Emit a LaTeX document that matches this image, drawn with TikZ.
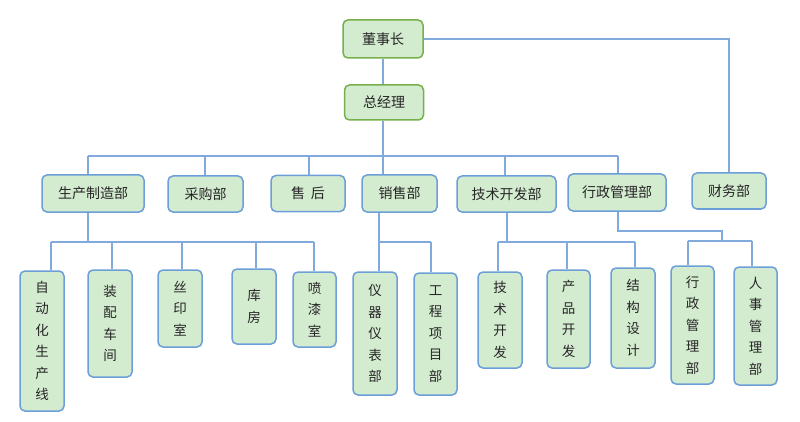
\documentclass[tikz,border=0pt]{standalone}
\usepackage{fontspec}
\newfontfamily\cjk{Noto Sans CJK SC}
\definecolor{boxfill}{HTML}{D3EBCF}
\definecolor{boxblue}{HTML}{6C9FD8}
\definecolor{topgreen}{HTML}{77B04A}
\definecolor{linkblue}{HTML}{80AADB}
\begin{document}
\begin{tikzpicture}[x=1pt,y=-1pt,
  base/.style={fill=boxfill, rounded corners=5pt, line width=1.5pt, inner sep=0pt, align=center, text=black!85},
  topbox/.style={base, draw=topgreen, font=\cjk\fontsize{14}{16}\selectfont},
  hbox/.style={base, draw=boxblue, font=\cjk\fontsize{14}{16}\selectfont},
  vbox/.style={base, draw=boxblue, font=\cjk\fontsize{13.5}{21.5}\selectfont},
  link/.style={draw=linkblue, line width=1.1pt}]
\useasboundingbox (0,0) rectangle (800,422);
% top
\node[topbox, minimum width=80pt, minimum height=38pt] (chair) at (383,39) {董事长};
\node[topbox, minimum width=79pt, minimum height=35pt] (gm) at (384,102.5) {总经理};
% second level
\node[hbox, minimum width=102pt, minimum height=37pt] (mfg) at (93,193.5) {生产制造部};
\node[hbox, minimum width=75pt, minimum height=36pt] (pur) at (205.5,194) {采购部};
\node[hbox, minimum width=74pt, minimum height=36pt] (after) at (308,193.5) {售\hspace{6pt}后};
\node[hbox, minimum width=75pt, minimum height=37pt] (sales) at (399.5,193.5) {销售部};
\node[hbox, minimum width=99pt, minimum height=36pt] (tech) at (506.5,194) {技术开发部};
\node[hbox, minimum width=98pt, minimum height=37pt] (admin) at (617,192.5) {行政管理部};
\node[hbox, minimum width=74pt, minimum height=36pt] (fin) at (729,191) {财务部};
% bottom level
\node[vbox, minimum width=44pt, minimum height=140pt] (b1) at (42,341) {自\\动\\化\\生\\产\\线};
\node[vbox, minimum width=44pt, minimum height=107pt] (b2) at (110,323.5) {装\\配\\车\\间};
\node[vbox, minimum width=44pt, minimum height=77pt] (b3) at (180,308.5) {丝\\印\\室};
\node[vbox, minimum width=44pt, minimum height=75pt] (b4) at (254,306.5) {库\\房};
\node[vbox, minimum width=43pt, minimum height=75pt] (b5) at (314.5,309.5) {喷\\漆\\室};
\node[vbox, minimum width=44pt, minimum height=123pt] (b6) at (375,333.5) {仪\\器\\仪\\表\\部};
\node[vbox, minimum width=43pt, minimum height=122pt] (b7) at (435.5,334) {工\\程\\项\\目\\部};
\node[vbox, minimum width=44pt, minimum height=96pt] (b8) at (500,320) {技\\术\\开\\发};
\node[vbox, minimum width=43pt, minimum height=98pt] (b9) at (568.5,319) {产\\品\\开\\发};
\node[vbox, minimum width=44pt, minimum height=100pt] (b10) at (633,318) {结\\构\\设\\计};
\node[vbox, minimum width=43pt, minimum height=118pt] (b11) at (692.5,325) {行\\政\\管\\理\\部};
\node[vbox, minimum width=43pt, minimum height=118pt] (b12) at (755.5,326) {人\\事\\管\\理\\部};
% connectors top
\coordinate (t0) at (383,156);
\draw[link] (t0 |- chair.south) -- (t0 |- gm.north);
\draw[link] (chair.east) -| (fin.north);
\coordinate (t1) at (88,156);
\coordinate (t2) at (205,156);
\coordinate (t3) at (309,156);
\coordinate (t4) at (383,156);
\coordinate (t5) at (505,156);
\coordinate (t6) at (618,156);
\draw[link] (t0 |- gm.south) -- (t0);
\draw[link] (t1) -- (t6);
\foreach \c/\n in {t1/mfg,t2/pur,t3/after,t4/sales,t5/tech,t6/admin}
  \draw[link] (\c) -- (\c |- \n.north);
% manufacturing group
\coordinate (m0) at (88,242);
\coordinate (m1) at (51,242);
\coordinate (m2) at (112,242);
\coordinate (m3) at (182,242);
\coordinate (m4) at (256,242);
\coordinate (m5) at (314,242);
\draw[link] (m0 |- mfg.south) -- (m0);
\draw[link] (m1) -- (m5);
\foreach \c/\n in {m1/b1,m2/b2,m3/b3,m4/b4,m5/b5}
  \draw[link] (\c) -- (\c |- \n.north);
% sales group
\coordinate (s1) at (379,242);
\coordinate (s2) at (431,242);
\draw[link] (s1 |- sales.south) -- (s1) -- (s2);
\draw[link] (s1) -- (s1 |- b6.north);
\draw[link] (s2) -- (s2 |- b7.north);
% tech group
\coordinate (k0) at (507,242);
\coordinate (k1) at (498,242);
\coordinate (k2) at (567,242);
\coordinate (k3) at (635,242);
\draw[link] (k0 |- tech.south) -- (k0);
\draw[link] (k1) -- (k3);
\foreach \c/\n in {k1/b8,k2/b9,k3/b10}
  \draw[link] (\c) -- (\c |- \n.north);
% admin group
\coordinate (a0) at (618,231);
\coordinate (a1) at (722,231);
\coordinate (a2) at (722,241);
\coordinate (a3) at (688,241);
\coordinate (a4) at (752,241);
\draw[link] (a0 |- admin.south) -- (a0) -- (a1) -- (a2);
\draw[link] (a3) -- (a4);
\draw[link] (a3) -- (a3 |- b11.north);
\draw[link] (a4) -- (a4 |- b12.north);
\end{tikzpicture}
\end{document}
